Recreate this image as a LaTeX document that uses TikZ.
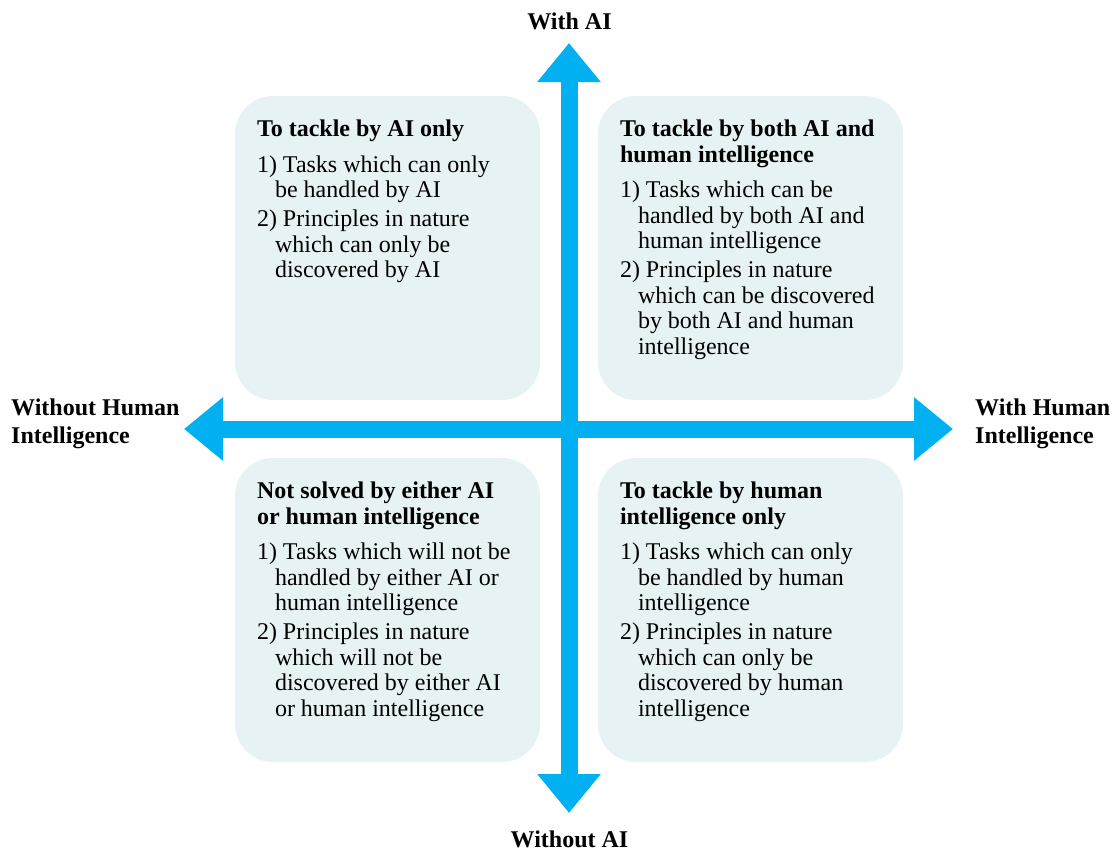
\documentclass[tikz,border=0pt]{standalone}
\usepackage{fontspec}
\setmainfont{Liberation Serif}
\usetikzlibrary{arrows.meta,calc}
\definecolor{axisblue}{RGB}{0,176,240}
\definecolor{boxfill}{RGB}{231,242,245}
\newcommand{\ind}{\hspace*{18pt}}

\tikzset{
    quadbox/.style={fill=boxfill, rounded corners=38pt, minimum width=305pt,
        minimum height=304pt, inner sep=0pt},
    quadtext/.style={anchor=north west, inner sep=0pt, align=left,
        font=\fontsize{24}{25.5}\selectfont},
    axislabel/.style={inner sep=0pt, align=left,
        font=\fontsize{24}{27.5}\selectfont\bfseries},
    axisarrow/.style={axisblue, line width=17pt,
        {Triangle[width=61pt,length=39pt]}-{Triangle[width=61pt,length=39pt]}}
}

\begin{document}
\begin{tikzpicture}[x=1pt, y=-1pt]
    \useasboundingbox (0, 0) rectangle (1114, 852);
    % Quadrant boxes
    \node[quadbox] (tl) at (387.5, 248) {};
    \node[quadbox] (tr) at (750.5, 248) {};
    \node[quadbox] (bl) at (387.5, 610) {};
    \node[quadbox] (br) at (750.5, 610) {};
    % Axes
    \coordinate (ntip) at (569, 43);
    \coordinate (stip) at (569, 813);
    \coordinate (wtip) at (184, 429);
    \coordinate (etip) at (953, 429);
    \draw[axisarrow] (stip) -- (ntip);
    \draw[axisarrow] (wtip) -- (etip);
    % Axis labels
    \node[axislabel, anchor=base] (withai) at (569.5, 29) {With AI};
    \node[axislabel, anchor=base] (withoutai) at (569.5, 847) {Without AI};
    \node[axislabel, anchor=north west] (withouthi) at (11, 399)
        {Without Human\\Intelligence};
    \node[axislabel, anchor=north west] (withhi) at (975, 399)
        {With Human\\Intelligence};
    % Quadrant texts
    \node[quadtext] (tltext) at ($(tl.north west) + (22, 24)$) {%
        \textbf{To tackle by AI only}\\[10pt]
        1) Tasks which can only\\
        \ind be handled by AI\\[3.5pt]
        2) Principles in nature\\
        \ind which can only be\\
        \ind discovered by AI};
    \node[quadtext] (trtext) at ($(tr.north west) + (22, 24)$) {%
        \textbf{To tackle by both AI and}\\
        \textbf{human intelligence}\\[10pt]
        1) Tasks which can be\\
        \ind handled by both AI and\\
        \ind human intelligence\\[3.5pt]
        2) Principles in nature\\
        \ind which can be discovered\\
        \ind by both AI and human\\
        \ind intelligence};
    \node[quadtext] (bltext) at ($(bl.north west) + (22, 24)$) {%
        \textbf{Not solved by either AI}\\
        \textbf{or human intelligence}\\[10pt]
        1) Tasks which will not be\\
        \ind handled by either AI or\\
        \ind human intelligence\\[3.5pt]
        2) Principles in nature\\
        \ind which will not be\\
        \ind discovered by either AI\\
        \ind or human intelligence};
    \node[quadtext] (brtext) at ($(br.north west) + (22, 24)$) {%
        \textbf{To tackle by human}\\
        \textbf{intelligence only}\\[10pt]
        1) Tasks which can only\\
        \ind be handled by human\\
        \ind intelligence\\[3.5pt]
        2) Principles in nature\\
        \ind which can only be\\
        \ind discovered by human\\
        \ind intelligence};
\end{tikzpicture}
\end{document}
